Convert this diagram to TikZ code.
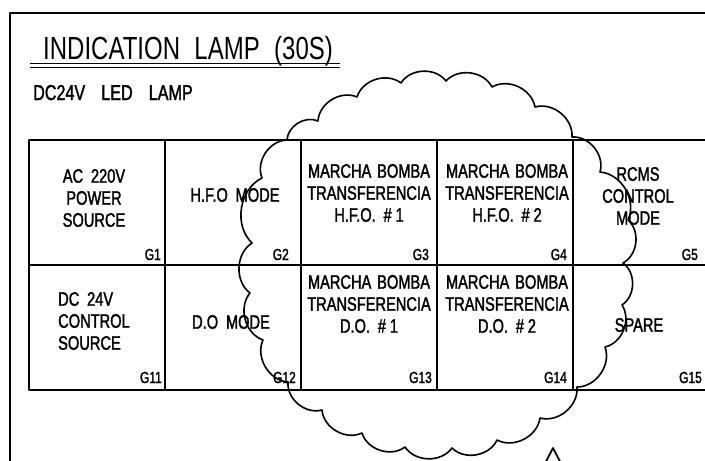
\documentclass[tikz,border=0pt]{standalone}
\usepackage{fontspec}
\newfontfamily\cadfont[FakeStretch=0.75]{Liberation Sans}
\newfontfamily\cadboldfont[FakeStretch=0.75, FakeBold=1.6]{Liberation Sans}
\begin{document}
\begin{tikzpicture}[x=1pt, y=-1pt, line join=round,
    cell/.style={draw, line width=1.6pt, minimum width=136pt, minimum height=125pt, inner sep=0pt},
    lamp/.style={font=\cadboldfont\fontsize{19.5}{22}\selectfont, align=center, inner sep=0pt},
    tag/.style={font=\cadboldfont\fontsize{16}{16}\selectfont, anchor=base east, inner sep=0pt},
    cloudline/.style={line width=1.6pt}]

    \useasboundingbox (0,0) rectangle (705,461);
    \clip (0,0) rectangle (705,461);

    % Frame
    \coordinate (F1) at (705,13);
    \coordinate (F2) at (10,13);
    \coordinate (F3) at (10,461);
    \draw[line width=2.4pt] (F1) -- (F2) -- (F3);

    % Title
    \node at (43,59) (title) [anchor=base west, inner sep=0pt, font=\cadfont\fontsize{32}{32}\selectfont] {INDICATION\hspace{0.45em}LAMP\hspace{0.45em}(30S)};
    \draw[line width=1.2pt] (30,63.3) -- (340,63.3);
    \draw[line width=1.2pt] (30,67.3) -- (340,67.3);
    \node at (33,100) (lamptype) [anchor=base west, inner sep=0pt, font=\cadboldfont\fontsize{21.5}{21.5}\selectfont] {DC24V\hspace{0.75em}LED\hspace{0.75em}LAMP};

    % Cells
    \node at (97,202.5) (G1) [cell] {};
    \node at (233,202.5) (G2) [cell] {};
    \node at (369,202.5) (G3) [cell] {};
    \node at (505,202.5) (G4) [cell] {};
    \node at (641,202.5) (G5) [cell] {};

    \node at (97,327.5) (G11) [cell] {};
    \node at (233,327.5) (G12) [cell] {};
    \node at (369,327.5) (G13) [cell] {};
    \node at (505,327.5) (G14) [cell] {};
    \node at (641,327.5) (G15) [cell] {};

    % Texts
    \node at (94,198) (T1) [lamp] {AC\hspace{0.4em}220V\\POWER\\SOURCE};
    \node at (235,195) (T2) [lamp] {H.F.O\hspace{0.4em}MODE};
    \node at (369,193) (T3) [lamp] {MARCHA\hspace{0.3em}BOMBA\\TRANSFERENCIA\\H.F.O.\hspace{0.4em}\#\hspace{0.2em}1};
    \node at (507,193) (T4) [lamp] {MARCHA\hspace{0.3em}BOMBA\\TRANSFERENCIA\\H.F.O.\hspace{0.4em}\#\hspace{0.2em}2};
    \node at (638,196) (T5) [lamp] {RCMS\\CONTROL\\MODE};

    \node at (58,321) (T11) [lamp, anchor=west, align=left] {DC\hspace{0.4em}24V\\CONTROL\\SOURCE};
    \node at (231,322) (T12) [lamp] {D.O\hspace{0.4em}MODE};
    \node at (369,304) (T13) [lamp] {MARCHA\hspace{0.3em}BOMBA\\TRANSFERENCIA\\D.O.\hspace{0.4em}\#\hspace{0.2em}1};
    \node at (507,304) (T14) [lamp] {MARCHA\hspace{0.3em}BOMBA\\TRANSFERENCIA\\D.O.\hspace{0.4em}\#\hspace{0.2em}2};
    \node at (639,325) (T15) [lamp] {SPARE};

    % Tags
    \node at (161,260) (L1) [tag] {G1};
    \node at (289,260) (L2) [tag] {G2};
    \node at (429,260) (L3) [tag] {G3};
    \node at (567,260) (L4) [tag] {G4};
    \node at (698,260) (L5) [tag] {G5};
    \node at (162,383) (L11) [tag] {G11};
    \node at (296,383) (L12) [tag] {G12};
    \node at (432,383) (L13) [tag] {G13};
    \node at (567,383) (L14) [tag] {G14};
    \node at (702,383) (L15) [tag] {G15};

    % Revision cloud
    \draw[cloudline] (287,140) to[bend left=55] (318,121) to[bend left=55] (357,97)
        to[bend left=55] (401,83) to[bend left=55] (446,81) to[bend left=55] (492,87)
        to[bend left=55] (535,107) to[bend left=55] (572,137) to[bend left=55] (600,172)
        to[bend left=55] (628,220) to[bend left=55] (623,263) to[bend left=55] (622,305)
        to[bend left=55] (605,347) to[bend left=55] (577,387) to[bend left=55] (540,418)
        to[bend left=55] (497,440) to[bend left=55] (452,448) to[bend left=55] (405,447)
        to[bend left=55] (362,433) to[bend left=55] (322,410) to[bend left=55] (288,382)
        to[bend left=55] (263,340) to[bend left=55] (250,293) to[bend left=55] (252,243)
        to[bend left=55] (262,178) to[bend left=55] (287,140);

    % Revision mark
    \draw[line width=1.8pt] (553,448) -- (541,471) -- (565,471) -- cycle;

\end{tikzpicture}
\end{document}
